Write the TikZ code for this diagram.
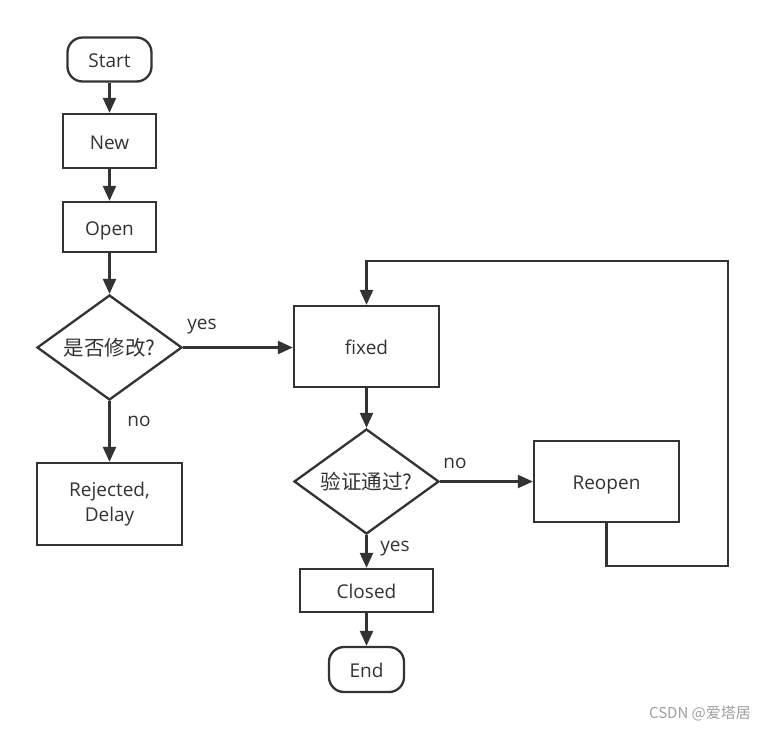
\documentclass[tikz,border=0pt]{standalone}
\usepackage{fontspec}
\setmainfont{Open Sans}
\newfontfamily\cjk{Noto Sans CJK SC}
\usetikzlibrary{shapes.geometric,arrows.meta}
\definecolor{ink}{HTML}{333333}
\definecolor{wm}{HTML}{A0A0A0}
\begin{document}
\begin{tikzpicture}[x=1pt,y=-1pt,
  base/.style={draw=ink,line width=2.3pt,inner sep=0pt,text=ink,font=\fontsize{19}{25}\selectfont,align=center},
  one/.style={text height=16pt,text depth=0pt},
  box/.style={base,rectangle},
  term/.style={base,one,rectangle,rounded corners=15pt},
  decision/.style={base,one,diamond,aspect=1.4},
  conn/.style={draw=ink,line width=2.3pt,-{Triangle[length=15pt,width=13pt]}},
  lbl/.style={text=ink,font=\fontsize{19}{24}\selectfont,inner sep=0pt,one},
  cnt/.style={font=\cjk\fontsize{20.5}{24}\selectfont}]
\fill[white] (0,0) rectangle (765,729);
\useasboundingbox (0,0) rectangle (765,729);

\node[term,minimum width=84pt,minimum height=44pt] (start) at (109.5,59.5) {Start};
\node[box,one,minimum width=93pt,minimum height=54pt] (new) at (109.5,141) {New};
\node[box,one,minimum width=93pt,minimum height=50pt] (open) at (109.5,227) {Open};
\node[decision,cnt,minimum width=145pt,minimum height=105pt] (d1) at (109.5,347.5) {是否修改?};
\node[box,minimum width=145pt,minimum height=82pt] (rej) at (109.5,504) {Rejected,\\Delay};
\node[box,one,minimum width=145pt,minimum height=81pt] (fixed) at (366.5,346.5) {fixed};
\node[decision,cnt,minimum width=145pt,minimum height=105pt] (d2) at (366.5,481.5) {验证通过?};
\node[box,one,minimum width=145pt,minimum height=81pt] (reopen) at (606.5,481.5) {Reopen};
\node[box,one,minimum width=133pt,minimum height=43pt] (closed) at (366.5,590.5) {Closed};
\node[term,minimum width=75pt,minimum height=45pt] (end) at (366.5,669.5) {End};

\coordinate (lb) at (728,566);
\coordinate (lt) at (728,261);

\draw[conn] (start) -- (new);
\draw[conn] (new) -- (open);
\draw[conn] (open) -- (d1);
\draw[conn] (d1.east) -- (d1.east -| fixed.west);
\draw[conn] (d1) -- (rej);
\draw[conn] (fixed) -- (d2);
\draw[conn] (d2.east) -- (d2.east -| reopen.west);
\draw[conn] (d2) -- (closed);
\draw[conn] (closed) -- (end);
\draw[conn] (reopen.south) |- (lb) -- (lt) -| (fixed.north);

\node[lbl] (l1) at (202,321) {yes};
\node[lbl] (l2) at (139,418) {no};
\node[lbl] (l3) at (455,460) {no};
\node[lbl] (l4) at (395,543) {yes};

\node[text=wm,inner sep=0pt,font=\cjk\fontsize{15}{18}\selectfont] (wmk) at (700,713) {CSDN @爱塔居};
\end{tikzpicture}
\end{document}
